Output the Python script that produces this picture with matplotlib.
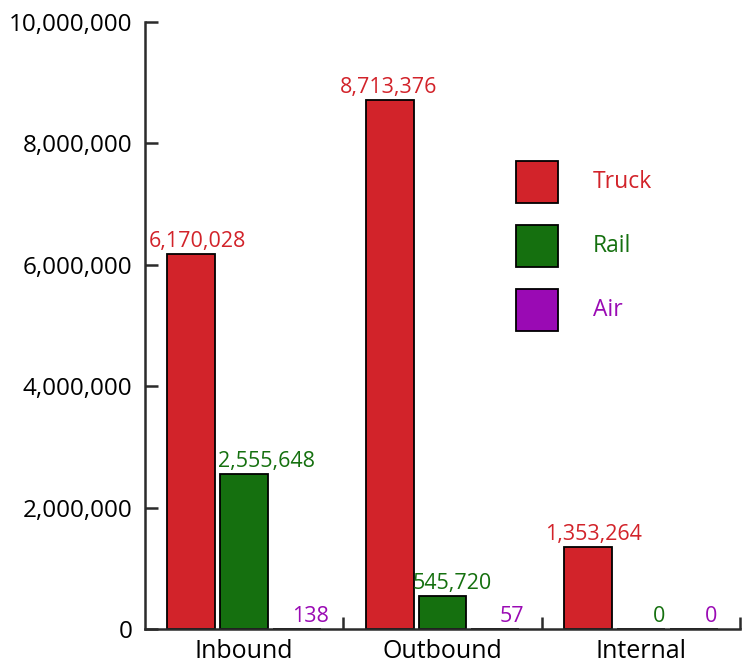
import matplotlib
matplotlib.use("Agg")
import matplotlib.pyplot as plt
from matplotlib.patches import Rectangle
import numpy as np

categories = ["Inbound", "Outbound", "Internal"]
modes = ["Truck", "Rail", "Air"]
truck = [6170028, 8713376, 1353264]
rail = [2555648, 545720, 0]
air = [138, 57, 0]
yticks = [0, 2000000, 4000000, 6000000, 8000000, 10000000]

colors = {"Truck": "#D2232A", "Rail": "#15700F", "Air": "#9A0AB4"}
label_dx = {"Truck": [6, -1, 5], "Rail": [22, 10, 18], "Air": [13, 17, 17]}

plt.rcParams['font.family'] = ['Open Sans', 'DejaVu Sans']
W, H = 747, 665
fig = plt.figure(figsize=(W / 100, H / 100), dpi=100)
L, R, B, T = 145, 740, 629, 22
ax = fig.add_axes([L / W, 1 - B / H, (R - L) / W, (B - T) / H])

x = np.arange(len(categories))
step = 53 / 199
width = 48 / 199
series = {"Truck": truck, "Rail": rail, "Air": air}
for i, m in enumerate(modes):
    vals = series[m]
    xs = x + (i - 1) * step
    ax.bar(xs, vals, width, color=colors[m], edgecolor="black", linewidth=1.3, zorder=2)
    for xi, v, dx in zip(xs, vals, label_dx[m]):
        ax.annotate(f"{v:,}", (xi, v), xytext=(dx, 7), textcoords="offset pixels",
                    ha="center", va="baseline", color=colors[m], fontsize=15.5)

ax.set_xlim(-0.5, 2.5)
ax.set_ylim(0, 10000000)
ax.set_yticks(yticks)
ax.set_yticklabels([f"{v:,}" for v in yticks])
ax.set_xticks(x)
ax.set_xticklabels(categories)
ax.set_xticks([0.5, 1.5, 2.5], minor=True)

spine_c = "#2b2b2b"
for s in ["top", "right"]:
    ax.spines[s].set_visible(False)
for s in ["left", "bottom"]:
    ax.spines[s].set_linewidth(1.8)
    ax.spines[s].set_color(spine_c)
    ax.spines[s].set_zorder(3)
ax.tick_params(axis="y", direction="in", length=9, width=1.8, color=spine_c,
               labelsize=17.5, pad=9, labelcolor="black")
ax.tick_params(axis="x", which="major", length=0, labelsize=18, pad=7)
ax.tick_params(axis="x", which="minor", direction="in", length=9, width=1.8, color=spine_c)

# legend
for j, m in enumerate(modes):
    y0 = 161 + j * 64
    fig.patches.append(Rectangle((516 / W, 1 - (y0 + 42) / H), 42 / W, 42 / H,
                                 transform=fig.transFigure, facecolor=colors[m],
                                 edgecolor="black", linewidth=1.3))
    fig.text(593 / W, 1 - (y0 + 21) / H, m, color=colors[m], fontsize=16.5,
             ha="left", va="center")

fig.savefig("out.png", dpi=100)
